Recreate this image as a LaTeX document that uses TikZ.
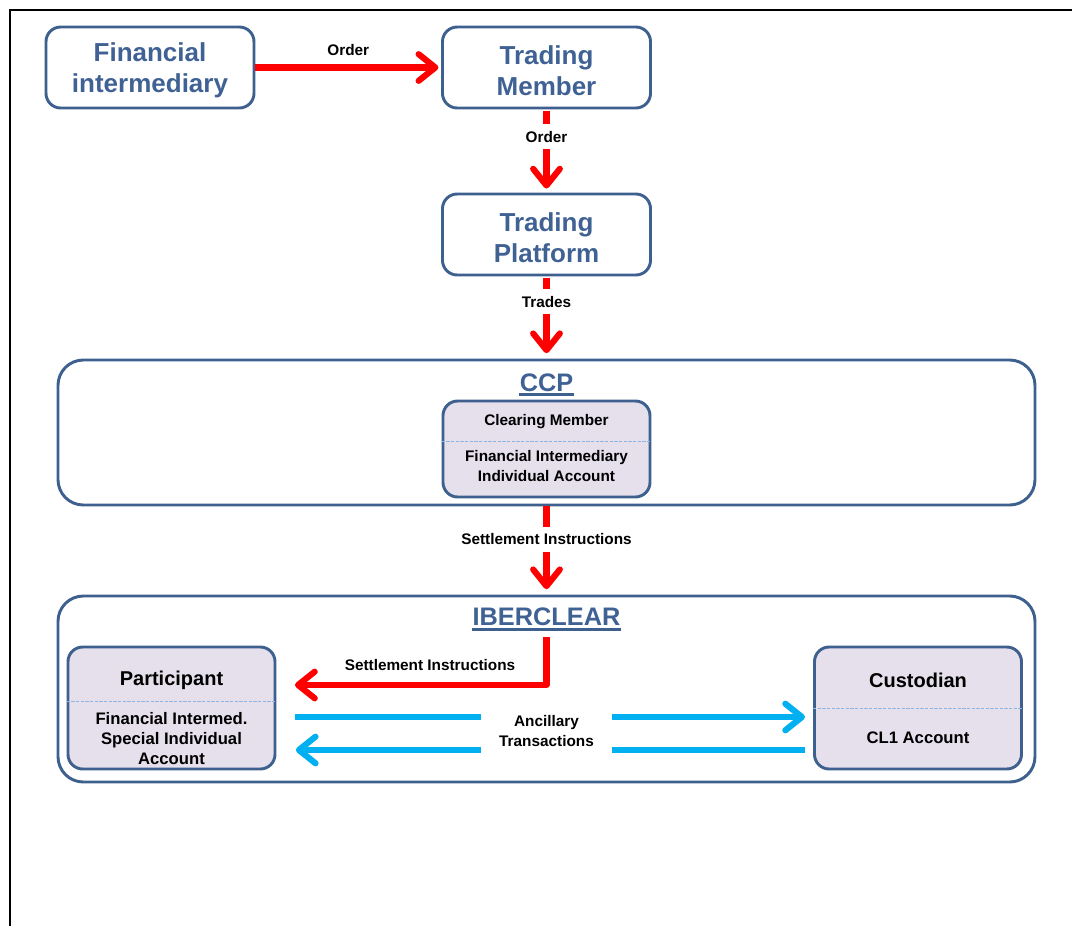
\documentclass[tikz,border=0pt]{standalone}
\usepackage{fontspec}
\setmainfont{Liberation Sans}
\usetikzlibrary{arrows.meta,calc}
\definecolor{boxblue}{RGB}{62,96,143}
\definecolor{txtblue}{RGB}{63,97,148}
\definecolor{lav}{RGB}{229,224,236}
\definecolor{divblue}{RGB}{142,180,227}
\definecolor{arrred}{RGB}{255,0,0}
\definecolor{arrcyan}{RGB}{0,176,240}
\tikzset{
  bigtxt/.style={font=\bfseries\fontsize{19.5}{23.5}\selectfont, text=txtblue, align=center, inner sep=0pt},
  topbox/.style={draw=boxblue, line width=2.2pt, rounded corners=11pt, minimum width=156pt, minimum height=60.75pt, inner sep=0pt},
  bigbox/.style={draw=boxblue, line width=2.2pt, rounded corners=19pt, minimum width=732.75pt, inner sep=0pt},
  subbox/.style={draw=boxblue, fill=lav, line width=2.2pt, rounded corners=11pt, minimum width=155.25pt, inner sep=0pt},
  titletxt/.style={font=\bfseries\fontsize{19}{23}\selectfont, text=txtblue, inner sep=0pt, anchor=base},
  uline/.style={draw=boxblue, line width=2.4pt},
  lbl/.style={font=\bfseries\fontsize{11.5}{15}\selectfont, align=center, inner sep=0pt},
  midtxt/.style={font=\bfseries\fontsize{12.5}{15}\selectfont, align=center, inner sep=0pt},
  headtxt/.style={font=\bfseries\fontsize{15}{18}\selectfont, align=center, inner sep=0pt},
  divider/.style={draw=divblue, line width=0.6pt, dash pattern=on 2.5pt off 1pt},
  redarr/.style={draw=arrred, line width=4.6pt, line join=round, -{Straight Barb[length=12.5pt, width=20pt, line cap=round, line join=round]}},
  bluearr/.style={draw=arrcyan, line width=4.6pt, -{Straight Barb[length=12.5pt, width=20pt, line cap=round, line join=round]}},
  gaplbl/.style={lbl, fill=white, inner xsep=2pt, inner ysep=5pt}
}
\begin{document}
\begin{tikzpicture}[x=0.75pt, y=-0.75pt]
\useasboundingbox (0,0) rectangle (1072,926);
% frame
\draw[line width=1.1pt] (10,926) -- (10,10) -- (1072,10);

% top boxes
\node[topbox] (fi) at (150,67.5) {};
\node[bigtxt] (fit) at (150,70.5) {Financial\\intermediary};
\node[topbox] (tm) at (546.5,67.5) {};
\node[bigtxt] (tmt) at (546.5,70.5) {Trading\\Member};
\node[topbox] (tp) at (546.5,234.5) {};
\node[bigtxt] (tpt) at (546.5,237.5) {Trading\\Platform};

% CCP
\node[bigbox, minimum height=108.75pt] (ccp) at (546.5,432.5) {};
\node[titletxt] (ccpt) at (546.5,391) {CCP};
\draw[uline] ([yshift=-2.4pt]ccpt.south west) -- ([yshift=-2.4pt]ccpt.south east);
\node[subbox, minimum height=72pt] (cm) at (546.5,449) {};
\draw[divider] (cm.west |- 0,441) -- (cm.east |- 0,441);
\node[lbl] (cmt) at (546.5,422) {Clearing Member};
\node[lbl] (cma) at (546.5,466) {Financial Intermediary\\Individual Account};

% IBERCLEAR
\node[bigbox, minimum height=139.5pt] (ibr) at (546.5,689) {};
\node[titletxt] (ibt) at (546.5,625) {IBERCLEAR};
\draw[uline] ([yshift=-3pt]ibt.south west) -- ([yshift=-3pt]ibt.south east);

\node[subbox, minimum height=91.5pt] (part) at (171.5,708) {};
\draw[divider] (part.west |- 0,701) -- (part.east |- 0,701);
\node[headtxt] (partt) at (171.5,680.5) {Participant};
\node[midtxt] (parta) at (171.5,739) {Financial Intermed.\\Special Individual\\Account};

\node[subbox, minimum height=91.5pt] (cust) at (918,708) {};
\draw[divider] (cust.west |- 0,708) -- (cust.east |- 0,708);
\node[headtxt] (custt) at (918,680.5) {Custodian};
\node[midtxt] (custa) at (918,738) {CL1 Account};

% red connectors
\draw[redarr, shorten >=2pt] (fi.east) -- node[lbl, above=6.5pt] (o1) {Order} (tm.west);
\draw[redarr, shorten <=1pt, shorten >=3pt] (tm.south) -- node[gaplbl, pos=0.326] (o2) {Order} (tp.north);
\draw[redarr, shorten <=1pt, shorten >=4pt] (tp.south) -- node[gaplbl, pos=0.306] (tr) {Trades} (ccp.north);
\draw[redarr, shorten >=4pt] (ccp.south) -- node[gaplbl, pos=0.374] (si1) {Settlement Instructions} (ibr.north);

\coordinate (rbend) at (546.5,685);
\coordinate (rend) at (295,685);
\draw[redarr] ([yshift=-8.5pt]ibt.south) -- (rbend) -- (rend);
\node[lbl] (si2) at (430,665.5) {Settlement Instructions};

% blue connectors
\draw[bluearr] ([xshift=14.25pt,yshift=-6.75pt]part.east) -- ([xshift=-6pt,yshift=-6.75pt]cust.west);
\draw[bluearr] ([xshift=-6pt,yshift=-31.5pt]cust.west) -- ([xshift=14.5pt,yshift=-31.5pt]part.east);
\node[lbl, fill=white, minimum width=98pt, minimum height=34pt] (anc) at (546.5,731) {Ancillary\\Transactions};
\end{tikzpicture}
\end{document}
